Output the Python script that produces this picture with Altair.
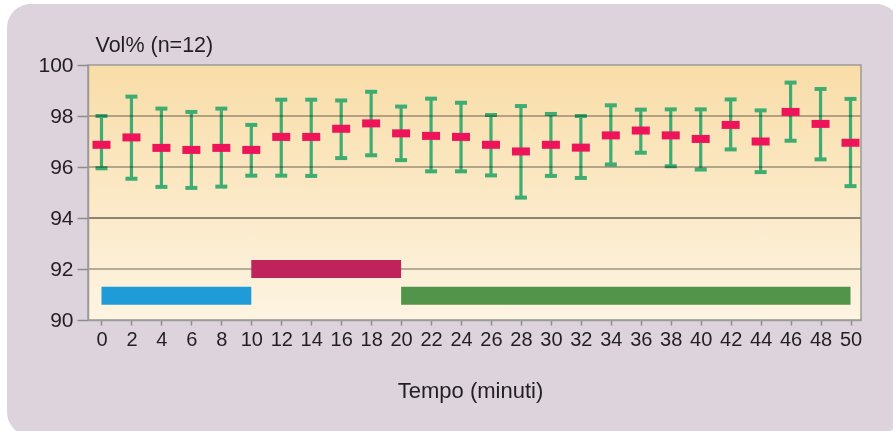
import altair as alt
import pandas as pd

# Oxygen saturation readings (Vol%) every 2 minutes, n = 12
minutes = list(range(0, 51, 2))
mean_vol = [96.87, 97.16, 96.75, 96.67, 96.75, 96.67, 97.18, 97.18, 97.50, 97.71,
            97.32, 97.22, 97.18, 96.87, 96.61, 96.87, 96.76, 97.24, 97.43, 97.24,
            97.10, 97.65, 97.00, 98.16, 97.69, 96.95]
upper_vol = [98.00, 98.76, 98.29, 98.16, 98.29, 97.65, 98.64, 98.64, 98.61, 98.95,
             98.37, 98.68, 98.52, 98.04, 98.39, 98.08, 98.00, 98.42, 98.25, 98.26,
             98.26, 98.65, 98.22, 99.31, 99.06, 98.67]
lower_vol = [95.95, 95.54, 95.22, 95.18, 95.23, 95.66, 95.66, 95.65, 96.35, 96.46,
             96.27, 95.83, 95.83, 95.67, 94.80, 95.65, 95.57, 96.10, 96.56, 96.03,
             95.90, 96.69, 95.80, 97.03, 96.30, 95.25]

# Protocol phases shown as bands along the bottom of the plot
phase_names = ["fase 1", "fase 2", "fase 3"]
phase_start = [0, 10, 20]
phase_end = [10, 20, 50]
phase_low = [90.6, 91.65, 90.6]
phase_high = [91.3, 92.35, 91.3]
phase_colors = ["#1F9BD7", "#C0225A", "#52954A"]

grid_values = [92, 94, 96, 98]
y_ticks = [90, 92, 94, 96, 98, 100]

W, H = 773, 255
FONT = "Liberation Sans"
TEXT = "#231F20"
GREEN = "#3FAD71"

readings = pd.DataFrame({"t": minutes, "mean": mean_vol, "hi": upper_vol, "lo": lower_vol})
phases = pd.DataFrame({"phase": phase_names, "start": phase_start, "end": phase_end,
                       "low": phase_low, "high": phase_high})
grid = pd.DataFrame({"v": grid_values})

x_scale = alt.Scale(domain=[-0.9, 50.7], nice=False, zero=False)
y_scale = alt.Scale(domain=[90, 100], nice=False, zero=False)

x_axis = alt.Axis(values=minutes, title="Tempo (minuti)", grid=False, labelOverlap=False,
                  labelFlush=False, tickSize=5, labelPadding=4, zindex=1,
                  titleY=77, titleX=382, titleBaseline="alphabetic", titleFontSize=22)
y_axis = alt.Axis(values=y_ticks, title="Vol% (n=12)", grid=False, tickSize=11,
                  labelPadding=4, zindex=1, titleAngle=0, titleAlign="left",
                  titleBaseline="alphabetic", titleX=7, titleY=-14, titleFontSize=21.5)


def xq(field):
    return alt.X(field, type="quantitative", scale=x_scale, axis=x_axis)


def yq(field):
    return alt.Y(field, type="quantitative", scale=y_scale, axis=y_axis)


blank = alt.Chart(pd.DataFrame({"k": [0]}))

# Rounded panel behind the whole figure
panel = blank.mark_rect(fill="#DCD3DD", cornerRadius=24).encode(
    x=alt.value(-81), x2=alt.value(812), y=alt.value(-61), y2=alt.value(371))

# Warm gradient filling the plotting area
plot_bg = blank.mark_rect(
    fill=alt.LinearGradient(gradient="linear",
                            stops=[alt.GradientStop(color="#F9DDA8", offset=0),
                                   alt.GradientStop(color="#FDF4E2", offset=1)],
                            x1=0, x2=0, y1=0, y2=1)
).encode(x=alt.value(0), x2=alt.value(W), y=alt.value(0), y2=alt.value(H))

frame = blank.mark_rect(filled=False, stroke="#9C9A98", strokeWidth=1.5).encode(
    x=alt.value(0), x2=alt.value(W), y=alt.value(0), y2=alt.value(H))

base = alt.Chart(readings)

whiskers = base.mark_rule(color=GREEN, strokeWidth=3.2, opacity=1).encode(
    x=xq("t"), y=yq("lo"), y2="hi:Q")

caps_hi = base.mark_tick(color=GREEN, orient="horizontal", size=12, thickness=4,
                         opacity=1).encode(x=xq("t"), y=yq("hi"))
caps_lo = base.mark_tick(color=GREEN, orient="horizontal", size=12, thickness=4,
                         opacity=1).encode(x=xq("t"), y=yq("lo"))

gridlines = alt.Chart(grid).mark_rule(color="#8E8E8E", blend="multiply").encode(
    y=yq("v"),
    strokeWidth=alt.condition(alt.datum.v == 94, alt.value(2), alt.value(1.3)),
    opacity=alt.condition(alt.datum.v == 94, alt.value(1.0), alt.value(0.85)))

bands = alt.Chart(phases).mark_rect(opacity=1).encode(
    x=xq("start"), x2="end:Q", y=yq("low"), y2="high:Q",
    color=alt.Color("phase:N", scale=alt.Scale(domain=phase_names, range=phase_colors),
                    legend=None))

means = base.mark_tick(color="#EE145A", orient="horizontal", size=18, thickness=8,
                       opacity=1).encode(x=xq("t"), y=yq("mean"))

chart = alt.layer(
    panel, plot_bg, whiskers, caps_hi, caps_lo, gridlines, frame, bands, means
).properties(
    width=W, height=H,
    autosize=alt.AutoSizeParams(type="none"),
    padding={"left": 88, "top": 65, "right": 32, "bottom": 111},
    background="white",
).configure_view(stroke=None).configure_axis(
    labelFont=FONT, titleFont=FONT, labelColor=TEXT, titleColor=TEXT,
    titleFontWeight="normal", tickColor="#8C8C8C", tickWidth=1.5,
    domainColor="#9C9A98", domainWidth=1.5,
).configure_axisX(labelFontSize=20).configure_axisY(labelFontSize=21)

chart.save("out.html", embed_options={"renderer": "svg", "actions": False})
